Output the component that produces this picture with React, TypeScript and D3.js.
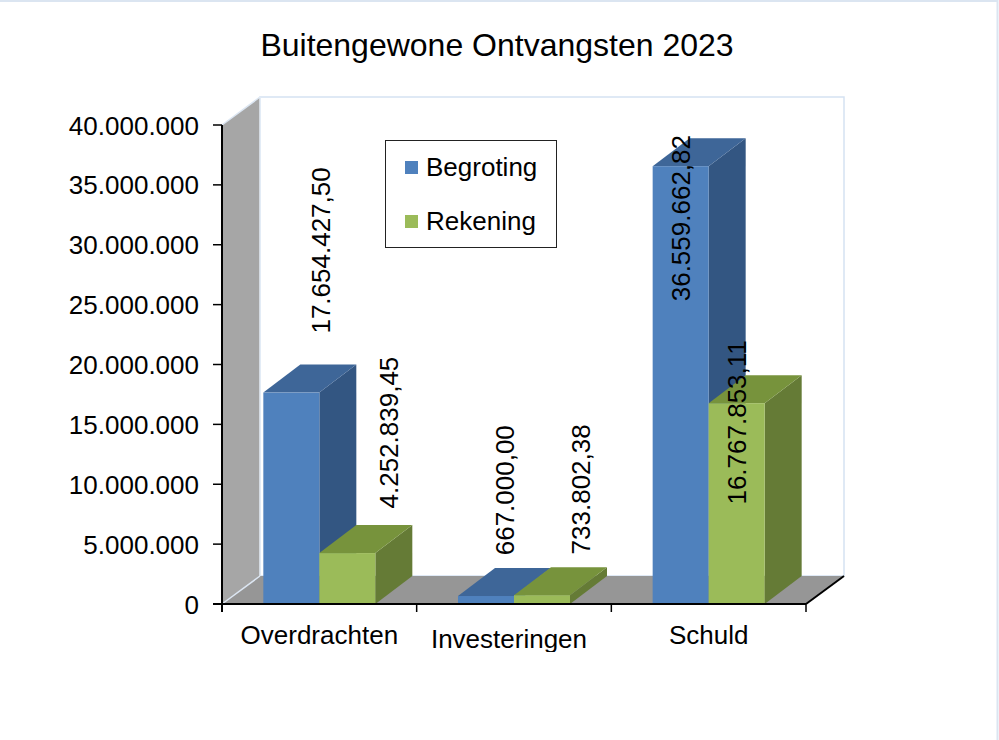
import React from "react";
import * as d3 from "d3";

const title = "Buitengewone Ontvangsten 2023";
const categories = ["Overdrachten", "Investeringen", "Schuld"];
const seriesNames = ["Begroting", "Rekening"];
const begroting = [17654427.5, 667000.0, 36559662.82];
const rekening = [4252839.45, 733802.38, 16767853.11];
const yTicks = [0, 5000000, 10000000, 15000000, 20000000, 25000000, 30000000, 35000000, 40000000];

const W = 999;
const H = 740;
const FONT = "'Liberation Sans', Arial, sans-serif";
const FS = 26;

const frontFill = ["#4f81bd", "#9bbb59"];
const topFill = ["#3e6698", "#77933c"];
const sideFill = ["#335682", "#657b36"];

const nl = d3.formatLocale({ decimal: ",", thousands: ".", grouping: [3], currency: ["€", ""] });
const fmtAxis = nl.format(",.0f");
const fmtVal = nl.format(",.2f");

function textLen(s: string, fs: number) {
  let w = 0;
  for (const ch of s) w += ch === "." || ch === "," ? 0.278 : 0.556;
  return w * fs;
}

export default function App() {
  const left = 222, right = 806, bottom = 604, top = 125;
  const dx = 38, dy = -28;
  const y = d3.scaleLinear().domain([0, 40000000]).range([bottom, top]);
  const xBand = d3.scaleBand<string>().domain(categories).range([left, right]).paddingInner(0).paddingOuter(0);
  const xSub = d3.scaleBand<string>().domain(seriesNames).range([0, xBand.bandwidth()]).paddingInner(0).paddingOuter(0.738);
  const values = [begroting, rekening];
  const bw = xSub.bandwidth();
  const bdx = 37;

  const bars: any[] = [];
  const labels: any[] = [];
  categories.forEach((c, ci) => {
    const items = seriesNames.map((s, si) => {
      const v = values[si][ci];
      const x0 = (xBand(c) as number) + (xSub(s) as number);
      const yt = y(v);
      const h = bottom - yt;
      const str = fmtVal(v);
      const len = textLen(str, FS);
      const outBottom = yt + dy - (12 + 0.09 * h);
      return { c, s, si, v, x0, yt, h, str, len, outBottom, outTop: outBottom - len };
    });
    const inside = items.some((it) => it.outTop < top + dy);
    items.forEach((it) => {
      bars.push(it);
      if (!inside) {
        labels.push({ key: it.c + it.s, x: it.x0 + bw / 2 + 19 + 20 * it.si + 0.05 * it.h, y: it.outBottom, anchor: "start", str: it.str });
      } else {
        labels.push({ key: it.c + it.s, x: it.x0 + bw / 2, y: Math.max(top + 10, it.yt - 63), anchor: "end", str: it.str });
      }
    });
  });

  const pts = (a: number[][]) => a.map((p) => p.join(",")).join(" ");

  return (
    <svg width={W} height={H} style={{ position: "absolute", left: 0, top: 0, background: "#fff" }} fontFamily={FONT}>
      <defs>
        <clipPath id="catclip">
          <rect x={0} y={0} width={W} height={652} />
        </clipPath>
      </defs>
      <rect x={0} y={0} width={W} height={H} fill="#fff" />
      <line x1={0} y1={1} x2={997.5} y2={1} stroke="#dbe5f1" strokeWidth={2} />
      <line x1={997.5} y1={0} x2={997.5} y2={H} stroke="#dbe5f1" strokeWidth={2} />

      <text x={497} y={56} textAnchor="middle" fontSize={32} fill="#000">{title}</text>

      {/* back wall */}
      <rect x={left + dx} y={top + dy} width={right - left} height={bottom - top} fill="#fff" stroke="#d5e2f2" strokeWidth={1.5} />
      {/* left wall */}
      <polygon points={pts([[left, top], [left + dx, top + dy], [left + dx, bottom + dy], [left, bottom]])} fill="#a6a6a6" />
      <line x1={left} y1={top} x2={left + dx} y2={top + dy} stroke="#dce6f2" strokeWidth={1.5} />
      <line x1={left + dx} y1={top + dy} x2={left + dx} y2={bottom + dy} stroke="#e4ecf6" strokeWidth={1.5} />
      {/* floor */}
      <polygon points={pts([[left, bottom], [left + dx, bottom + dy], [right + dx, bottom + dy], [right, bottom]])} fill="#969696" />
      <line x1={left} y1={bottom} x2={left + dx} y2={bottom + dy} stroke="#dce6f2" strokeWidth={1.5} />

      {/* bars */}
      {bars.map((b) => {
        const x0 = b.x0, x1 = b.x0 + bw, yt = b.yt;
        return (
          <g key={b.c + b.s}>
            <polygon points={pts([[x1, yt], [x1 + bdx, yt + dy], [x1 + bdx, bottom + dy], [x1, bottom]])} fill={sideFill[b.si]} />
            <polygon points={pts([[x0, yt], [x0 + bdx, yt + dy], [x1 + bdx, yt + dy], [x1, yt]])} fill={topFill[b.si]} />
            <rect x={x0} y={yt} width={bw} height={bottom - yt} fill={frontFill[b.si]} />
          </g>
        );
      })}

      {/* axes */}
      <line x1={left} y1={top} x2={left} y2={bottom + 8} stroke="#000" strokeWidth={2} />
      <line x1={left - 9} y1={bottom} x2={right} y2={bottom} stroke="#000" strokeWidth={2} />
      <line x1={right} y1={bottom} x2={right + dx} y2={bottom + dy} stroke="#000" strokeWidth={2} />
      {yTicks.map((t) => (
        <g key={t}>
          <line x1={left - 9} y1={y(t)} x2={left} y2={y(t)} stroke="#000" strokeWidth={1.5} />
          <text x={199} y={y(t) + 9.5} textAnchor="end" fontSize={FS} fill="#000">{fmtAxis(t)}</text>
        </g>
      ))}
      {categories.map((c, i) => (
        <line key={"t" + c} x1={xBand(c) as number} y1={bottom} x2={xBand(c) as number} y2={bottom + 8} stroke="#000" strokeWidth={1.5} />
      ))}
      <line x1={right} y1={bottom} x2={right} y2={bottom + 8} stroke="#000" strokeWidth={1.5} />
      <g clipPath="url(#catclip)">
        {categories.map((c, i) => (
          <text key={c} x={(xBand(c) as number) + xBand.bandwidth() / 2 - (i === 1 ? 5 : 0)} y={644 + (i % 2) * 4} textAnchor="middle" fontSize={FS} fill="#000">{c}</text>
        ))}
      </g>

      {/* value labels */}
      {labels.map((l) => (
        <text key={l.key} transform={`translate(${l.x},${l.y}) rotate(-90)`} textAnchor={l.anchor} dominantBaseline="central" fontSize={FS} fill="#000">{l.str}</text>
      ))}

      {/* legend */}
      <rect x={385.5} y={140.5} width={171} height={107} fill="#fff" stroke="#222" strokeWidth={1} />
      {seriesNames.map((s, i) => (
        <g key={s}>
          <rect x={405} y={161 + i * 54} width={13} height={13} fill={frontFill[i]} />
          <text x={426} y={175.5 + i * 54} fontSize={FS} fill="#000">{s}</text>
        </g>
      ))}
    </svg>
  );
}
